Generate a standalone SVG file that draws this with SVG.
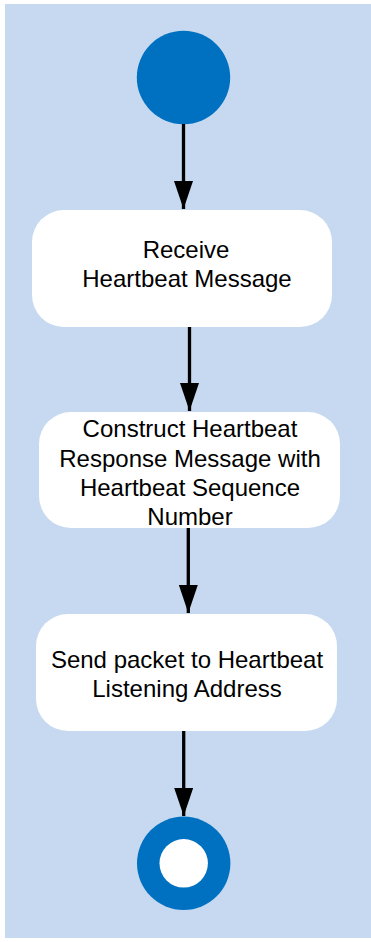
<svg xmlns="http://www.w3.org/2000/svg" width="371" height="942" viewBox="0 0 371 942">
  <defs>
    <marker id="ah" viewBox="0 0 28 19" refX="28" refY="9.5" markerWidth="28" markerHeight="19" markerUnits="userSpaceOnUse" orient="auto">
      <path d="M0,0 L28,9.5 L0,19 Z" fill="#000"/>
    </marker>
  </defs>
  <style>
    .bg { fill: #C6D9F0; }
    .node { fill: #FFFFFF; }
    .dot { fill: #0070C0; }
    .edge { stroke: #000; stroke-width: 3.3; fill: none; marker-end: url(#ah); }
    text { font-family: "Liberation Sans", Arial, sans-serif; font-size: 24px; fill: #000; text-anchor: middle; }
  </style>
  <rect class="bg" x="5" y="4" width="366" height="934"/>
  <g id="start">
    <circle class="dot" cx="183.5" cy="77.5" r="46.7"/>
  </g>
  <g id="receive">
    <rect class="node" x="32" y="210" width="300" height="117" rx="32" ry="32"/>
    <text x="186" y="258">Receive</text>
    <text x="187" y="287">Heartbeat Message</text>
  </g>
  <g id="construct">
    <rect class="node" x="39" y="412" width="301" height="116" rx="32" ry="32"/>
    <text x="190" y="437">Construct Heartbeat</text>
    <text x="190" y="467">Response Message with</text>
    <text x="190" y="496">Heartbeat Sequence</text>
    <text x="190" y="525">Number</text>
  </g>
  <g id="send">
    <rect class="node" x="36" y="614" width="301" height="117" rx="32" ry="32"/>
    <text x="187" y="668">Send packet to Heartbeat</text>
    <text x="187" y="697">Listening Address</text>
  </g>
  <g id="end">
    <circle class="dot" cx="183.7" cy="863.3" r="46.7"/>
    <circle class="node" cx="183.7" cy="863.3" r="24.2"/>
  </g>
  <g id="connectors">
    <line class="edge" x1="183.5" y1="124" x2="183.5" y2="209"/>
    <line class="edge" x1="189.5" y1="327" x2="189.5" y2="411"/>
    <line class="edge" x1="188.3" y1="528" x2="188.3" y2="613"/>
    <line class="edge" x1="183.7" y1="731" x2="183.7" y2="816"/>
  </g>
</svg>
